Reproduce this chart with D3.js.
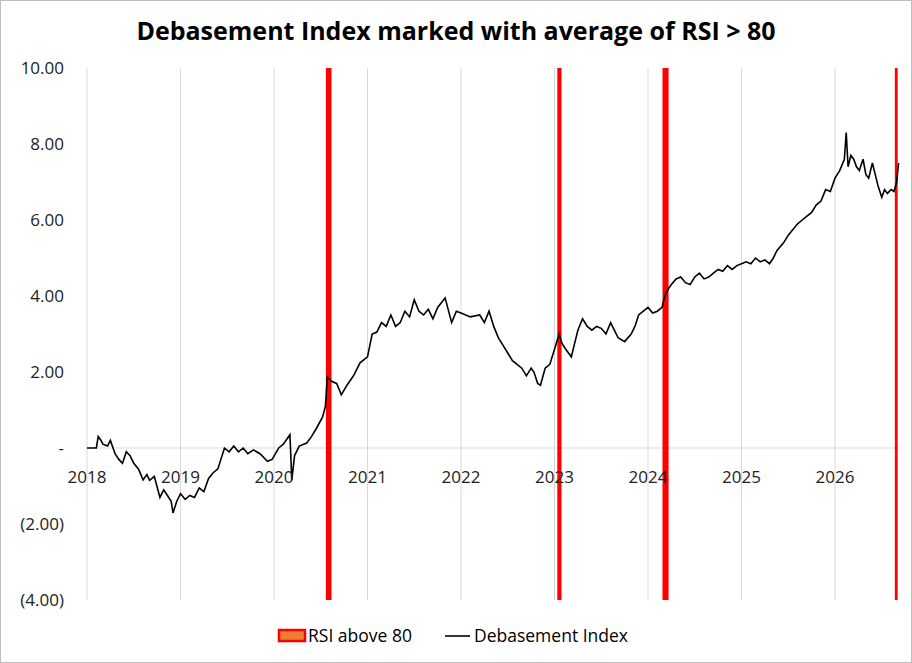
<!DOCTYPE html>
<html><head><meta charset="utf-8">
<script src="https://cdn.jsdelivr.net/npm/d3@7"></script>
<style>body{margin:0;background:#fff}svg{font-family:"Open Sans",sans-serif}</style>
</head><body><svg id="c" width="912" height="663"></svg>
<script>
const years=[2018,2019,2020,2021,2022,2023,2024,2025,2026];
const yTicks=[10,8,6,4,2,0,-2,-4];
const rsiBands=[[2020.555,2020.615],[2023.03,2023.075],[2024.155,2024.22],[2026.64,2026.67]];
const lineT=[2018.0,2018.1,2018.12,2018.15,2018.17,2018.22,2018.25,2018.3,2018.34,2018.38,2018.42,2018.46,2018.5,2018.55,2018.6,2018.64,2018.67,2018.72,2018.78,2018.82,2018.86,2018.9,2018.92,2018.96,2019.0,2019.05,2019.1,2019.15,2019.2,2019.25,2019.3,2019.35,2019.4,2019.47,2019.52,2019.57,2019.62,2019.67,2019.72,2019.78,2019.85,2019.93,2019.98,2020.05,2020.1,2020.17,2020.18,2020.19,2020.22,2020.27,2020.35,2020.4,2020.45,2020.52,2020.55,2020.57,2020.62,2020.67,2020.72,2020.78,2020.85,2020.92,2021.0,2021.05,2021.1,2021.15,2021.2,2021.25,2021.3,2021.35,2021.4,2021.45,2021.5,2021.55,2021.6,2021.65,2021.7,2021.75,2021.83,2021.9,2021.95,2022.0,2022.1,2022.2,2022.25,2022.3,2022.35,2022.4,2022.45,2022.5,2022.55,2022.6,2022.65,2022.7,2022.75,2022.78,2022.82,2022.85,2022.9,2022.95,2023.0,2023.05,2023.08,2023.12,2023.18,2023.22,2023.25,2023.3,2023.35,2023.4,2023.45,2023.5,2023.55,2023.6,2023.64,2023.68,2023.75,2023.82,2023.86,2023.9,2023.95,2024.0,2024.05,2024.1,2024.15,2024.18,2024.22,2024.25,2024.3,2024.35,2024.4,2024.45,2024.5,2024.55,2024.6,2024.65,2024.7,2024.75,2024.8,2024.85,2024.9,2024.95,2025.0,2025.05,2025.1,2025.15,2025.2,2025.25,2025.3,2025.34,2025.38,2025.45,2025.5,2025.55,2025.6,2025.65,2025.7,2025.75,2025.8,2025.85,2025.9,2025.95,2026.0,2026.05,2026.1,2026.12,2026.14,2026.17,2026.2,2026.23,2026.26,2026.3,2026.33,2026.36,2026.4,2026.43,2026.46,2026.5,2026.53,2026.56,2026.6,2026.63,2026.66,2026.68];
const lineV=[0,0,0.3,0.2,0.1,0.05,0.2,-0.15,-0.3,-0.4,-0.1,-0.2,-0.4,-0.55,-0.84,-0.7,-0.85,-0.75,-1.3,-1.1,-1.25,-1.4,-1.71,-1.4,-1.2,-1.35,-1.25,-1.3,-1.05,-1.15,-0.8,-0.65,-0.55,0,-0.1,0.05,-0.1,0,-0.15,-0.05,-0.15,-0.35,-0.3,0,0.1,0.35,-0.2,-0.85,-0.2,0.05,0.13,0.3,0.5,0.82,1.1,1.87,1.75,1.7,1.4,1.65,1.9,2.24,2.4,3.0,3.05,3.3,3.2,3.5,3.2,3.3,3.6,3.45,3.9,3.6,3.5,3.65,3.4,3.7,3.95,3.3,3.6,3.55,3.45,3.5,3.3,3.6,3.2,2.9,2.7,2.5,2.3,2.2,2.1,1.9,2.1,2.0,1.7,1.65,2.1,2.2,2.6,3.0,2.75,2.6,2.4,2.8,3.1,3.4,3.2,3.1,3.2,3.15,3.0,3.3,3.1,2.9,2.8,3.0,3.2,3.5,3.6,3.7,3.55,3.6,3.7,4.0,4.2,4.3,4.45,4.5,4.35,4.3,4.5,4.6,4.45,4.5,4.6,4.7,4.65,4.8,4.7,4.8,4.85,4.9,4.85,5.0,4.9,4.95,4.85,5.0,5.2,5.4,5.6,5.75,5.9,6.0,6.1,6.2,6.4,6.5,6.8,6.75,7.1,7.3,7.6,8.3,7.4,7.7,7.6,7.4,7.3,7.6,7.2,7.1,7.5,7.2,6.9,6.6,6.8,6.7,6.8,6.75,7.0,7.5];

const svg=d3.select("#c");
svg.append("rect").attr("x",0.5).attr("y",0.5).attr("width",911).attr("height",662).attr("fill","#fff").attr("stroke","#bfbfbf");
const x=d3.scaleLinear().domain([2018,2026]).range([87,835]);
const y=d3.scaleLinear().domain([-4,10]).range([600,68]);
const g=svg.append("g");
g.selectAll(".vg").data(years).join("line").attr("x1",d=>x(d)).attr("x2",d=>x(d)).attr("y1",68).attr("y2",600).attr("stroke","#d9d9d9");
g.append("line").attr("x1",x(2018)).attr("x2",x(2026.7)).attr("y1",y(0)).attr("y2",y(0)).attr("stroke","#d9d9d9");
g.selectAll(".band").data(rsiBands).join("rect").attr("x",d=>x(d[0])).attr("width",d=>x(d[1])-x(d[0])).attr("y",68).attr("height",532).attr("fill","#ff0000");
const pts=lineT.map((t,i)=>[t,lineV[i]]);
g.append("path").datum(pts).attr("fill","none").attr("stroke","#000").attr("stroke-width",1.6).attr("d",d3.line().x(d=>x(d[0])).y(d=>y(d[1])));
const fmt=v=>v===0?"-":v<0?"("+d3.format(".2f")(-v)+")":d3.format(".2f")(v);
svg.selectAll(".yl").data(yTicks).join("text").attr("x",64).attr("y",d=>y(d)+6).attr("text-anchor","end").attr("font-size",17).attr("fill","#222").text(fmt);
svg.selectAll(".xl").data(years).join("text").attr("x",d=>x(d)).attr("y",y(0)+35).attr("text-anchor","middle").attr("font-size",17).attr("fill","#222").text(d=>d);
svg.append("text").attr("x",456).attr("y",40).attr("text-anchor","middle").attr("font-size",25).attr("font-weight","bold").attr("fill","#000").text("Debasement Index marked with average of RSI > 80");
const lg=svg.append("g");
lg.append("rect").attr("x",279).attr("y",630).attr("width",26).attr("height",11).attr("fill","#ed7d31").attr("stroke","#ff0000").attr("stroke-width",2.5);
lg.append("text").attr("x",308).attr("y",642).attr("font-size",17.5).attr("fill","#000").text("RSI above 80");
lg.append("line").attr("x1",445).attr("x2",470).attr("y1",636).attr("y2",636).attr("stroke","#000").attr("stroke-width",1.6);
lg.append("text").attr("x",474).attr("y",642).attr("font-size",17.5).attr("fill","#000").text("Debasement Index");
</script></body></html>
